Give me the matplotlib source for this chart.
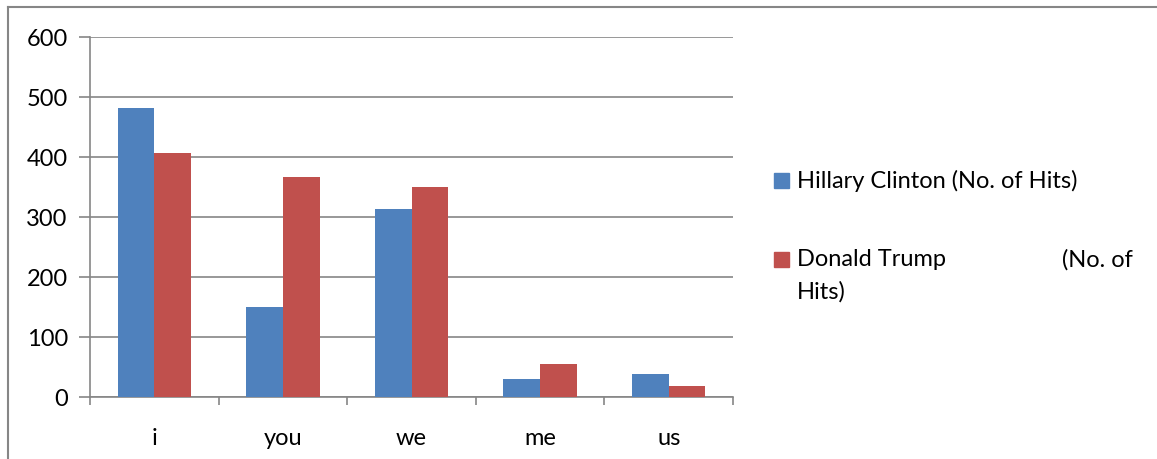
import numpy as np
import matplotlib
matplotlib.use('Agg')
import matplotlib.pyplot as plt
from matplotlib.patches import Rectangle
from matplotlib.lines import Line2D

# Word frequencies from the two candidates' speeches
words = ['i', 'you', 'we', 'me', 'us']
clinton_hits = [482, 149, 313, 29, 38]
trump_hits = [406, 367, 350, 55, 18]

blue = '#4F81BD'
red = '#C0504D'
grid_grey = '#868686'

plt.rcParams['font.family'] = ['Lato', 'DejaVu Sans']
fs = 17

fig = plt.figure(figsize=(11.57, 4.6), dpi=100)
W, H = 1157, 460

# plot area in pixel coordinates
x0, x1 = 90, 733
y_top, y_zero = 38, 397.5
ax = fig.add_axes([x0 / W, 1 - y_zero / H, (x1 - x0) / W, (y_zero - y_top) / H])

n = len(words)
x = np.arange(n)
bar_w = 1 / 3.5
ax.bar(x - bar_w / 2, clinton_hits, width=bar_w, color=blue, zorder=3)
ax.bar(x + bar_w / 2, trump_hits, width=bar_w, color=red, zorder=3)

ax.set_xlim(-0.5, n - 0.5)
ax.set_ylim(0, 600)
ax.set_yticks(range(0, 601, 100))
ax.yaxis.grid(True, color=grid_grey, linewidth=1.2, zorder=0)
ax.set_axisbelow(True)

# category labels centred, tick marks on the category boundaries
ax.set_xticks(x)
ax.set_xticklabels(words, fontsize=fs)
ax.tick_params(axis='x', length=0, pad=22)
ax.set_xticks(np.arange(-0.5, n, 1), minor=True)
ax.tick_params(axis='x', which='minor', length=6, color=grid_grey, width=1.2)
ax.tick_params(axis='y', length=8, color=grid_grey, width=1.2, labelsize=fs, pad=8)

for side in ['top', 'right']:
    ax.spines[side].set_visible(False)
for side in ['left', 'bottom']:
    ax.spines[side].set_color(grid_grey)
    ax.spines[side].set_linewidth(1.2)

# outer chart frame (top and left edges)
fig.add_artist(Line2D([8 / W, 1], [1 - 8 / H, 1 - 8 / H], color=grid_grey, lw=1.5))
fig.add_artist(Line2D([8 / W, 8 / W], [1 - 8 / H, 0], color=grid_grey, lw=1.5))

# legend
sq = 15
for yc, col in [(181, blue), (260, red)]:
    fig.add_artist(Rectangle((774 / W, 1 - (yc + sq / 2) / H), sq / W, sq / H,
                             color=col, transform=fig.transFigure))
fig.text(797 / W, 1 - 181 / H, 'Hillary Clinton (No. of Hits)', fontsize=fs,
         va='center', ha='left')
fig.text(797 / W, 1 - 260 / H, 'Donald Trump', fontsize=fs, va='center', ha='left')
fig.text(1133 / W, 1 - 260 / H, '(No. of', fontsize=fs, va='center', ha='right')
fig.text(797 / W, 1 - 292 / H, 'Hits)', fontsize=fs, va='center', ha='left')

fig.savefig('out.png', dpi=100)
